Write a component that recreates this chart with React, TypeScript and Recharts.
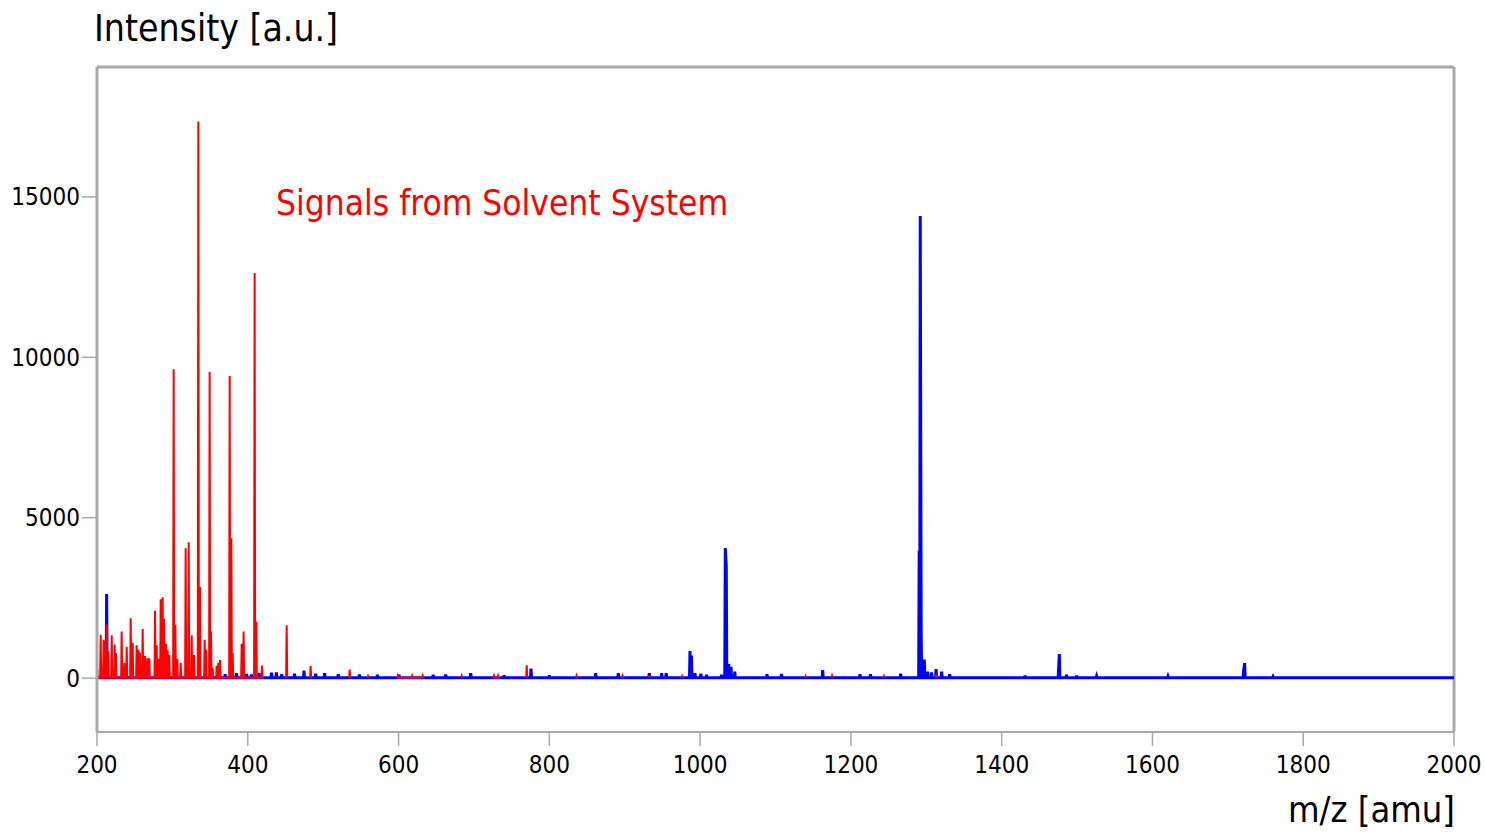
import { ComposedChart, Line, ReferenceLine, XAxis, YAxis } from 'recharts';

// solvent-system peaks (red), m/z and intensity
const redMz = [
  200.4, 204.9, 208.8, 210.6, 212.8, 215, 219.5, 223.4, 225.1, 232.7, 236.2, 239.4, 244.7, 247.3,
  252.6, 254.8, 257, 260.6, 263.7, 266.8, 269.4, 277, 279.2, 282.3, 284.5, 287.1, 288.9, 291.5,
  293.7, 295.9, 301.7, 303.9, 306.5, 311, 317.6, 321.6, 325.6, 328.7, 334.4, 336.6, 342.8, 344.6,
  349.4, 351.2, 353.4, 358.7, 360.9, 363.2, 376, 378.2, 380, 391.9, 394.5, 409.1, 411.3, 418.9,
  451.6, 483.4, 535.2, 559.5, 599, 618, 632, 683.7, 726.6, 732, 770, 836, 897, 932.6, 976, 1140,
  1175, 1244, 1313,
];
const redInt = [
  298, 1348, 1193, 1158, 1670, 835, 1336, 1050, 780, 1456, 480, 979, 1862, 1098,
  1026, 883, 800, 1527, 690, 620, 620, 2100, 1026, 600, 2458, 2518, 1850, 1074,
  871, 716, 9630, 1670, 600, 480, 4045, 4236, 1336, 716, 17350, 2840, 1193, 895,
  9547, 1456, 322, 382, 477, 561, 9415, 4356, 776, 1074, 1456, 12625, 1754, 394,
  1647, 374, 270, 60, 70, 70, 70, 70, 70, 70, 400, 70, 70, 80, 60, 60,
  70, 60, 60,
];

// sample peaks (blue)
const blueMz = [
  212.8, 370, 385, 398.5, 405, 415, 431.5, 438, 445, 462, 474.6, 490, 502, 520, 548, 572, 600.6,
  646, 662.5, 695.7, 740, 775.7, 800, 861.5, 891.5, 932.6, 949, 955, 986.6, 988.5, 993.2, 1001,
  1008.7, 1028.5, 1033.4, 1034.7, 1038, 1041, 1046, 1088.7, 1108, 1162.6, 1212, 1226, 1266,
  1290.6, 1292, 1293.2, 1297.4, 1301.8, 1307, 1313, 1320.4, 1331, 1431, 1475.6, 1476.5, 1486,
  1499.5, 1526, 1620.6, 1721, 1722.3, 1760,
];
const blueInt = [
  2625, 120, 150, 130, 110, 160, 170, 180, 120, 140, 230, 140, 150, 120, 110, 100, 100,
  100, 110, 150, 90, 300, 90, 150, 150, 150, 150, 150, 842, 700, 150, 140,
  100, 100, 4054, 3492, 436, 350, 200, 120, 130, 250, 120, 120, 140,
  3970, 14405, 1500, 580, 200, 180, 280, 200, 120, 80, 330, 748, 100,
  80, 70, 60, 250, 468, 50,
];

const xTicks = [200, 400, 600, 800, 1000, 1200, 1400, 1600, 1800, 2000];
const yTicks = [0, 5000, 10000, 15000];

const MZ_MIN = 200;
const MZ_MAX = 2000;
const Y_MIN = -1680;
const Y_MAX = 19050;
const BASE = 15;
const HALF = 0.7;

type Pt = { mz: number; v: number | null };

// turn a peak list into a stick profile the Line can draw
function profile(mz: number[], int: number[], gap: number | null): Pt[] {
  const pts: Pt[] = [];
  mz.forEach((m, i) => {
    const prev = i > 0 ? mz[i - 1] : null;
    const next = i < mz.length - 1 ? mz[i + 1] : null;
    if (gap !== null && prev !== null && m - prev > gap) pts.push({ mz: (m + prev) / 2, v: null });
    if (prev === null || m - prev > 2 * HALF) pts.push({ mz: m - HALF, v: BASE });
    pts.push({ mz: m, v: int[i] });
    if (next === null || next - m > 2 * HALF) pts.push({ mz: m + HALF, v: BASE });
  });
  return pts;
}

const bluePts = [{ mz: MZ_MIN, v: BASE }, ...profile(blueMz, blueInt, null), { mz: MZ_MAX, v: BASE }];
const redPts = [{ mz: MZ_MIN, v: BASE }, ...profile(redMz, redInt, 20)];

const FONT = "'DejaVu Sans Condensed', 'DejaVu Sans', sans-serif";
const GRAY = '#a9a9a9';

export default function App() {
  const txt = { fontFamily: FONT, fontStretch: 'condensed' as const, position: 'absolute' as const, lineHeight: 1 };
  return (
    <div style={{ position: 'absolute', left: 0, top: 0, width: 1485, height: 835, background: '#fff' }}>
      <ComposedChart
        width={1485}
        height={835}
        margin={{ top: 67, right: 31, bottom: 63, left: 0 }}
        style={{ fontFamily: FONT, fontStretch: 'condensed' }}
      >
        <XAxis
          dataKey="mz"
          type="number"
          domain={[MZ_MIN, MZ_MAX]}
          ticks={xTicks}
          allowDataOverflow
          height={40}
          tickSize={14}
          tickMargin={10}
          axisLine={{ stroke: GRAY, strokeWidth: 2 }}
          tickLine={{ stroke: GRAY, strokeWidth: 1.5 }}
          tick={{ fontSize: 24, fill: '#000' }}
        />
        <YAxis
          type="number"
          domain={[Y_MIN, Y_MAX]}
          ticks={yTicks}
          allowDataOverflow
          width={97}
          tickSize={15}
          tickMargin={2}
          axisLine={{ stroke: GRAY, strokeWidth: 3 }}
          tickLine={{ stroke: GRAY, strokeWidth: 1.5 }}
          tick={{ fontSize: 24, fill: '#000' }}
        />
        {/* top and right edges of the frame */}
        <ReferenceLine y={Y_MAX} stroke={GRAY} strokeWidth={3} ifOverflow="visible" />
        <ReferenceLine x={MZ_MAX} stroke={GRAY} strokeWidth={3} ifOverflow="visible" />
        <Line
          data={bluePts}
          dataKey="v"
          type="linear"
          stroke="#0000ff"
          strokeWidth={3}
          dot={false}
          isAnimationActive={false}
        />
        <Line
          data={redPts}
          dataKey="v"
          type="linear"
          stroke="#ff0000"
          strokeWidth={2}
          dot={false}
          connectNulls={false}
          isAnimationActive={false}
        />
      </ComposedChart>
      <div style={{ ...txt, left: 94, top: 10, fontSize: 37, color: '#000' }}>Intensity [a.u.]</div>
      <div style={{ ...txt, left: 276, top: 186, fontSize: 35, color: '#ff0000' }}>Signals from Solvent System</div>
      <div style={{ ...txt, left: 0, width: 1455, textAlign: 'right', top: 792, fontSize: 36, color: '#000' }}>
        m/z [amu]
      </div>
    </div>
  );
}
